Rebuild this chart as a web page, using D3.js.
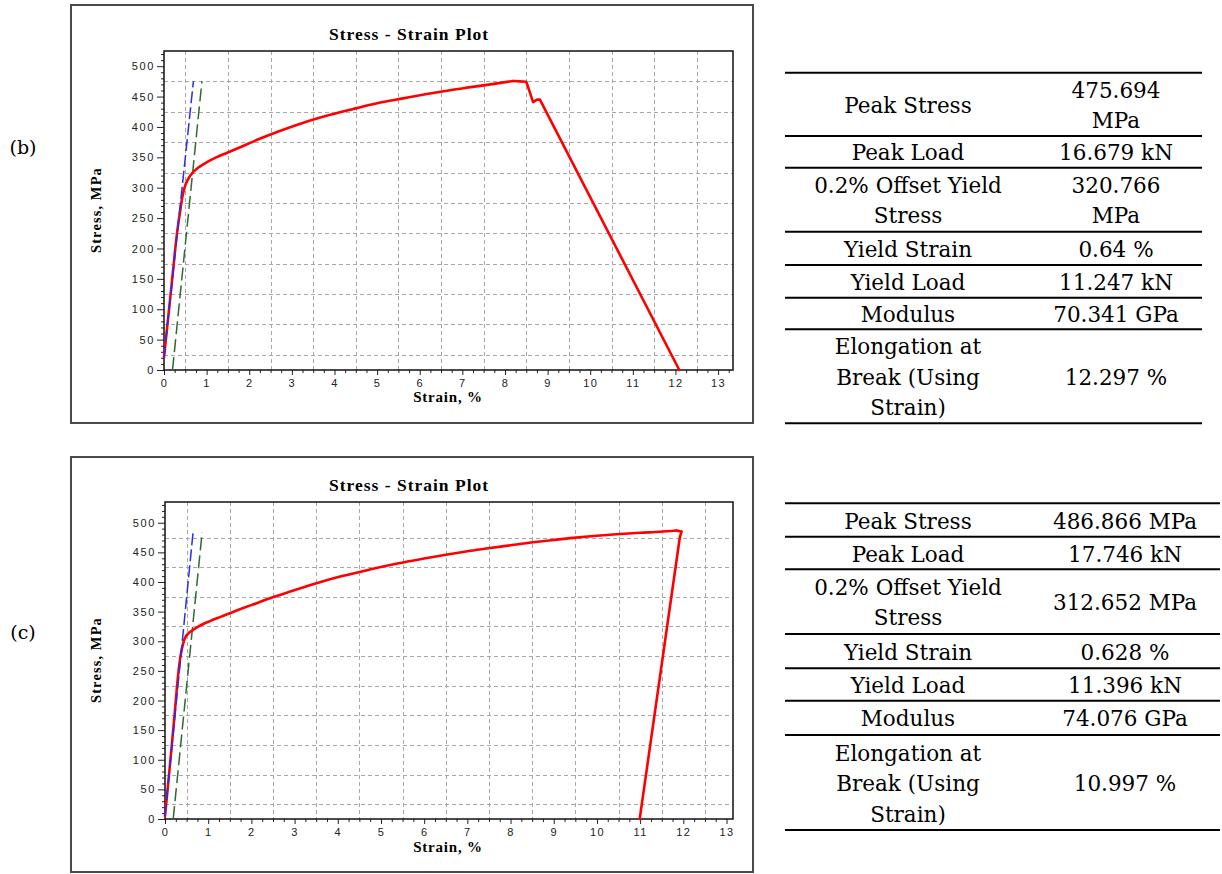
<!DOCTYPE html>
<html>
<head>
<meta charset="utf-8">
<script src="https://cdn.jsdelivr.net/npm/d3@7/dist/d3.min.js"></script>
<style>
  html, body { margin: 0; padding: 0; background: #fff; }
  svg { display: block; }
</style>
</head>
<body>
<script>
// ---------- DATA ----------
const xTickLabels = [0,1,2,3,4,5,6,7,8,9,10,11,12,13];
const yTickLabels = [0,50,100,150,200,250,300,350,400,450,500];
const xGridValues = [0.5,1.5,2.5,3.5,4.5,5.5,6.5,7.5,8.5,9.5,10.5,11.5,12.5];
const yGridValues = [25,75,125,175,225,275,325,375,425,475];

// Specimen (b)
const strainB = [0.00,0.10,0.20,0.30,0.38,0.44,0.50,0.58,0.69,0.80,0.93,1.20,1.48,1.80,2.26,2.70,3.27,3.90,4.52,5.00,5.61,6.20,6.71,7.20,7.70,8.19,8.35,8.50,8.66,8.75,8.82,12.09];
const stressB = [21,88,155,222,262,288,304,316,326,333,339,349,357.5,367,381,393,407,420,431,439,447,454.5,460.5,465.5,470.5,475.7,475,474.5,441,445,445,0];
const modulusLineB = { strain: [0.00, 0.69], stress: [20, 475] };
const offsetLineB  = { strain: [0.20, 0.89], stress: [0, 475] };

// Specimen (c)
const strainC = [0.00,0.10,0.20,0.30,0.36,0.42,0.48,0.55,0.65,0.80,1.04,1.30,1.66,2.00,2.43,2.90,3.51,4.10,4.74,5.44,6.00,6.50,7.00,7.44,8.00,8.52,9.00,9.45,10.00,10.45,11.00,11.46,11.84,11.96,11.92,10.99];
const stressC = [5,80,158,240,275,296,308,314,319,326,334,341.5,352,361,372.5,384,398,410,421,432,439.5,446,452,456.5,462,467,471,474.5,478,480.5,483,484.8,486.9,485,476,0];
const modulusLineC = { strain: [0.00, 0.65], stress: [5, 484] };
const offsetLineC  = { strain: [0.19, 0.86], stress: [0, 484] };

// Tables
const propNames = [["Peak Stress"],["Peak Load"],["0.2% Offset Yield","Stress"],["Yield Strain"],["Yield Load"],["Modulus"],["Elongation at","Break (Using","Strain)"]];
const valuesB = [["475.694","MPa"],["16.679 kN"],["320.766","MPa"],["0.64 %"],["11.247 kN"],["70.341 GPa"],["12.297 %"]];
const valuesC = [["486.866 MPa"],["17.746 kN"],["312.652 MPa"],["0.628 %"],["11.396 kN"],["74.076 GPa"],["10.997 %"]];
const panelLabels = ["(b)", "(c)"];

// ---------- DRAW ----------
const svg = d3.select("body").append("svg")
  .attr("width", 1222).attr("height", 874)
  .style("background", "#fff");

function drawChart(cfg) {
  const g = svg.append("g");
  g.append("rect").attr("x", cfg.box[0]).attr("y", cfg.box[1])
    .attr("width", cfg.box[2]).attr("height", cfg.box[3])
    .attr("fill", "#fff").attr("stroke", "#4a4a4a").attr("stroke-width", 2);

  const x = d3.scaleLinear().domain(cfg.xDomain).range([cfg.plot[0], cfg.plot[0] + cfg.plot[2]]);
  const y = d3.scaleLinear().domain(cfg.yDomain).range([cfg.plot[1] + cfg.plot[3], cfg.plot[1]]);
  const x0 = cfg.plot[0], y0 = cfg.plot[1] + cfg.plot[3];

  const grid = g.append("g").attr("stroke", "#a8a8a8").attr("stroke-width", 1).attr("stroke-dasharray", "4,3");
  grid.selectAll("line.v").data(xGridValues).join("line").attr("class", "v")
    .attr("x1", d => Math.round(x(d)) + 0.5).attr("x2", d => Math.round(x(d)) + 0.5)
    .attr("y1", cfg.plot[1]).attr("y2", y0);
  grid.selectAll("line.h").data(yGridValues).join("line").attr("class", "h")
    .attr("y1", d => Math.round(y(d)) + 0.5).attr("y2", d => Math.round(y(d)) + 0.5)
    .attr("x1", x0).attr("x2", cfg.plot[0] + cfg.plot[2]);

  const xMinor = d3.range(0, cfg.xDomain[1], 0.25).filter(v => Math.abs(v - Math.round(v)) > 1e-6);
  const yMinor = d3.range(0, cfg.yDomain[1], 10).filter(v => v % 50 !== 0);
  const axX = g.append("g").attr("transform", `translate(0,${y0})`)
    .call(d3.axisBottom(x).tickValues(xMinor).tickSize(3).tickFormat(""));
  axX.select(".domain").remove();
  axX.selectAll("line").attr("stroke", "#222");
  const axY = g.append("g").attr("transform", `translate(${x0},0)`)
    .call(d3.axisLeft(y).tickValues(yMinor).tickSize(3).tickFormat(""));
  axY.select(".domain").remove();
  axY.selectAll("line").attr("stroke", "#222");

  const axXM = g.append("g").attr("transform", `translate(0,${y0})`)
    .call(d3.axisBottom(x).tickValues(xTickLabels).tickSize(5).tickPadding(4).tickFormat(d3.format("d")));
  axXM.select(".domain").remove();
  axXM.selectAll("line").attr("stroke", "#222");
  axXM.selectAll("text").attr("font-family", "'Liberation Sans', Arial, sans-serif")
    .attr("font-size", 11).attr("fill", "#222").attr("letter-spacing", "1.4px");
  const axYM = g.append("g").attr("transform", `translate(${x0},0)`)
    .call(d3.axisLeft(y).tickValues(yTickLabels).tickSize(7).tickPadding(2).tickFormat(d3.format("d")));
  axYM.select(".domain").remove();
  axYM.selectAll("line").attr("stroke", "#222");
  axYM.selectAll("text").attr("font-family", "'Liberation Sans', Arial, sans-serif")
    .attr("font-size", 11).attr("fill", "#222").attr("letter-spacing", "1.6px");

  g.append("rect").attr("x", cfg.plot[0]).attr("y", cfg.plot[1])
    .attr("width", cfg.plot[2]).attr("height", cfg.plot[3])
    .attr("fill", "none").attr("stroke", "#111").attr("stroke-width", 1.5);

  const line = d3.line().x(d => x(d[0])).y(d => y(d[1]));
  const smooth = d3.line().x(d => x(d[0])).y(d => y(d[1])).curve(d3.curveCatmullRom.alpha(0.5));
  g.append("path").datum(d3.zip(cfg.offset.strain, cfg.offset.stress))
    .attr("d", line).attr("fill", "none").attr("stroke", "#2f6b2f")
    .attr("stroke-width", 1.5).attr("stroke-dasharray", "13,5");

  // test curve: smooth hardening part up to the peak, straight segments after it
  const pts = d3.zip(cfg.strain, cfg.stress);
  const peak = d3.maxIndex(cfg.stress);
  const red = g.append("g").attr("fill", "none").attr("stroke", "#ff0000")
    .attr("stroke-width", 2.6).attr("stroke-linejoin", "round").attr("stroke-linecap", "round");
  red.append("path").datum(pts.slice(0, peak + 1)).attr("d", smooth);
  red.append("path").datum(pts.slice(peak)).attr("d", line);

  g.append("path").datum(d3.zip(cfg.modulus.strain, cfg.modulus.stress))
    .attr("d", line).attr("fill", "none").attr("stroke", "#2a2af0")
    .attr("stroke-width", 1.5).attr("stroke-dasharray", "12,4");

  g.append("text").attr("x", cfg.titlePos[0]).attr("y", cfg.titlePos[1])
    .attr("text-anchor", "middle").attr("font-family", "'Liberation Serif', 'Times New Roman', serif")
    .attr("font-weight", "bold").attr("font-size", 17.5).attr("letter-spacing", "1.0px")
    .attr("fill", "#000").text("Stress - Strain Plot");
  g.append("text").attr("x", cfg.xLabelPos[0]).attr("y", cfg.xLabelPos[1])
    .attr("text-anchor", "middle").attr("font-family", "'Liberation Serif', 'Times New Roman', serif")
    .attr("font-weight", "bold").attr("font-size", 15).attr("letter-spacing", "0.8px")
    .attr("fill", "#000").text("Strain, %");
  g.append("text")
    .attr("transform", `translate(${cfg.yLabelPos[0]},${cfg.yLabelPos[1]}) rotate(-90)`)
    .attr("text-anchor", "middle").attr("font-family", "'Liberation Serif', 'Times New Roman', serif")
    .attr("font-weight", "bold").attr("font-size", 14.5).attr("letter-spacing", "1.1px")
    .attr("fill", "#000").text("Stress, MPa");
}

drawChart({
  box: [71, 5, 682, 418],
  plot: [164, 51, 569, 319],
  xDomain: [0, 13.35], yDomain: [0, 525],
  strain: strainB, stress: stressB, modulus: modulusLineB, offset: offsetLineB,
  titlePos: [409, 40], xLabelPos: [448, 402], yLabelPos: [101, 210]
});
drawChart({
  box: [71, 457, 682, 415],
  plot: [165, 502, 568, 317],
  xDomain: [0, 13.15], yDomain: [0, 535],
  strain: strainC, stress: stressC, modulus: modulusLineC, offset: offsetLineC,
  titlePos: [409, 491], xLabelPos: [448, 852], yLabelPos: [101, 660]
});

const labelY = [154, 639];
panelLabels.forEach((t, i) => {
  svg.append("text").attr("x", 23).attr("y", labelY[i]).attr("text-anchor", "middle")
    .attr("font-family", "'DejaVu Serif', serif").attr("font-size", 19).attr("fill", "#000").text(t);
});

function drawTable(cfg) {
  const g = svg.append("g");
  const rows = propNames.map((p, i) => ({ names: p, vals: cfg.values[i], top: cfg.lines[i], bottom: cfg.lines[i + 1] }));
  g.selectAll("line").data(cfg.lines).join("line")
    .attr("x1", cfg.x1).attr("x2", cfg.x2).attr("y1", d => d).attr("y2", d => d)
    .attr("stroke", "#000").attr("stroke-width", 2);
  const lh = 30.5;
  rows.forEach(r => {
    const c = (r.top + r.bottom) / 2;
    [[r.names, cfg.leftC], [r.vals, cfg.rightC]].forEach(([arr, cx]) => {
      const start = c + 8.5 - (arr.length - 1) * lh / 2;
      arr.forEach((s, k) => {
        g.append("text").attr("x", cx).attr("y", start + k * lh)
          .attr("text-anchor", "middle").attr("font-family", "'DejaVu Serif', serif")
          .attr("font-size", 21.5).attr("fill", "#000").text(s);
      });
    });
  });
}

drawTable({ values: valuesB, lines: [72.7, 136, 167.7, 231.7, 265, 297.7, 329.3, 423.3], x1: 785, x2: 1202, leftC: 908, rightC: 1116 });
drawTable({ values: valuesC, lines: [503.3, 536.7, 569.3, 634, 668.3, 700.7, 735, 830], x1: 785, x2: 1220, leftC: 908, rightC: 1125 });
</script>
</body>
</html>
